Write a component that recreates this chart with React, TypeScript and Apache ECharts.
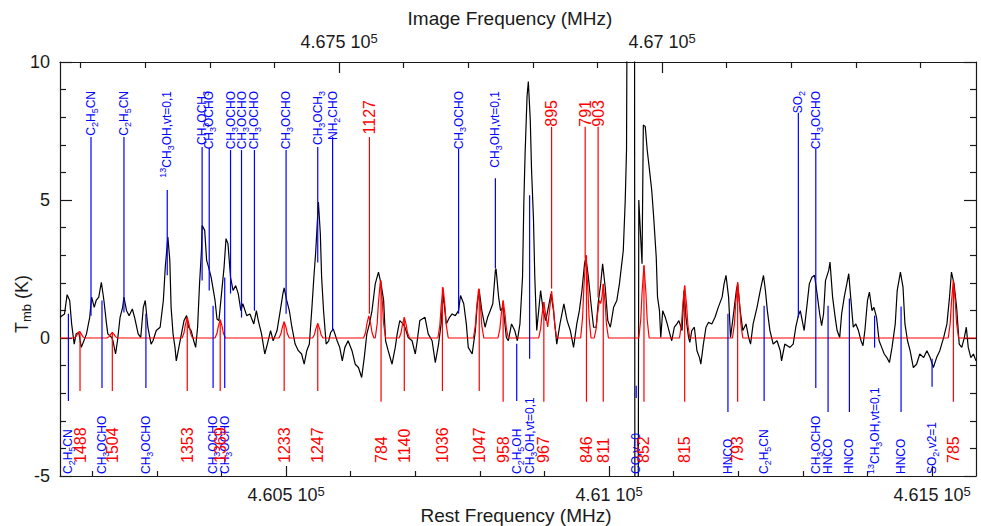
import React, { useEffect, useRef } from 'react';
import * as echarts from 'echarts';

const FONT = '"Liberation Sans", Arial, sans-serif';
const INK = '#1a1a1a';
const BLUE = '#0000ff';
const RED = '#ff0000';

// Rest frequency range (MHz) and image-sideband relation (image = IMAGE_SUM - rest)
const REST_MIN = 460150;
const REST_MAX = 461568;
const IMAGE_SUM = 928082;

const restMajorTicks = [460500, 461000, 461500];
const restMinorTicks = [460200, 460300, 460400, 460600, 460700, 460800, 460900, 461100, 461200, 461300, 461400];
const imageMajorTicks = [467500, 467000];
const imageMinorTicks = [467900, 467800, 467700, 467600, 467400, 467300, 467200, 467100, 466900, 466800, 466700, 466600];

// Observed spectrum (rest frequency MHz, Tmb K)
const specFreq = [
  460150, 460157, 460161, 460165, 460168, 460172, 460175, 460179, 460183, 460187,
  460191, 460196, 460199, 460203, 460206, 460210, 460214, 460218, 460222, 460224,
  460230, 460232, 460236, 460239, 460243, 460247, 460249, 460253, 460257, 460262,
  460266, 460271, 460275, 460279, 460282, 460286, 460291, 460294, 460299, 460305,
  460310, 460313, 460317, 460320, 460322, 460325, 460328, 460330, 460334, 460338,
  460342, 460346, 460349, 460353, 460357, 460360, 460363, 460366, 460369, 460370,
  460374, 460377, 460380, 460384, 460390, 460393, 460396, 460400, 460404, 460407,
  460410, 460414, 460418, 460422, 460426, 460430, 460433, 460439, 460444, 460450,
  460454, 460457, 460462, 460467, 460471, 460476, 460480, 460486, 460491, 460495,
  460497, 460501, 460505, 460509, 460514, 460519, 460524, 460528, 460532, 460536,
  460540, 460543, 460546, 460550, 460553, 460555, 460558, 460562, 460566, 460569,
  460573, 460579, 460583, 460587, 460591, 460596, 460602, 460607, 460612, 460617,
  460621, 460625, 460629, 460633, 460638, 460643, 460647, 460651, 460654, 460658,
  460664, 460669, 460672, 460676, 460681, 460684, 460689, 460695, 460700, 460703,
  460707, 460715, 460720, 460726, 460731, 460736, 460740, 460743, 460748, 460753,
  460757, 460762, 460767, 460770, 460775, 460779, 460782, 460788, 460793, 460796,
  460799, 460803, 460808, 460812, 460816, 460820, 460824, 460825, 460829, 460832,
  460836, 460841, 460844, 460849, 460854, 460858, 460862, 460866, 460868, 460870,
  460873, 460875, 460878, 460880, 460883, 460885, 460888, 460891, 460894, 460898,
  460902, 460906, 460910, 460914, 460919, 460924, 460930, 460935, 460940, 460945,
  460950, 460954, 460958, 460962, 460964, 460968, 460972, 460976, 460980, 460983,
  460987, 460990, 460994, 460998, 461002, 461007, 461012, 461016, 461022, 461025,
  461027, 461030, 461039, 461040, 461045, 461046, 461051, 461053, 461056, 461059,
  461062, 461066, 461069, 461073, 461075, 461078, 461080, 461083, 461087, 461090,
  461094, 461097, 461101, 461105, 461108, 461113, 461116, 461119, 461123, 461125,
  461128, 461132, 461136, 461140, 461142, 461146, 461150, 461154, 461159, 461164,
  461169, 461175, 461178, 461181, 461185, 461188, 461192, 461197, 461199, 461203,
  461207, 461212, 461216, 461219, 461223, 461229, 461234, 461239, 461242, 461245,
  461249, 461254, 461260, 461265, 461267, 461272, 461280, 461285, 461289, 461293,
  461296, 461299, 461302, 461306, 461310, 461314, 461318, 461322, 461326, 461329,
  461332, 461335, 461340, 461342, 461346, 461350, 461353, 461357, 461360, 461364,
  461368, 461371, 461374, 461378, 461382, 461386, 461390, 461393, 461396, 461400,
  461403, 461407, 461410, 461414, 461418, 461422, 461426, 461430, 461434, 461438,
  461443, 461446, 461451, 461455, 461458, 461462, 461466, 461471, 461476, 461481,
  461487, 461492, 461497, 461502, 461507, 461512, 461518, 461523, 461527, 461530,
  461534, 461538, 461542, 461546, 461550, 461553, 461556, 461560, 461564, 461568,
];
const specT = [
  0.75, 0.87, 1.57, 1.36, 0.51, -0.22, 0.15, 0.2, -0.34, -0.1,
  0.15, 0.75, 1.48, 1.11, 1.36, 1.48, 2.02, 1.36, 0.51, 0.15,
  0.02, -0.1, -0.58, -0.1, 0.75, 1.11, 1.48, 0.99, 0.81, 1.05,
  0.69, 0.15, 0.02, 1.11, 1.36, 0.39, -0.22, -0.1, 0.27, 0.39,
  1.36, 2.57, 3.66, 2.81, 1.11, 0.15, -0.34, -0.83, -0.34, 0.15,
  0.63, 0.81, 0.39, 0.27, -0.1, -0.34, 0.39, 1.96, 3.17, 4.08,
  3.9, 2.81, 2.57, 2.2, 1.36, 0.69, 0.63, 1.6, 2.57, 3.6,
  3.42, 2.2, 1.72, 1.9, 1.6, 0.99, 1.24, 0.81, 0.87, 0.51,
  0.99, 0.63, 0.15, -0.58, -0.22, 0.27, -0.1, 0.27, 0.99, 1.6,
  1.82, 1.36, 0.99, 0.39, -0.22, -0.46, -0.58, -0.95, -0.46, -0.22,
  1.11, 2.2, 3.17, 4.93, 3.78, 2.2, 0.99, -0.22, -0.1, 0.2,
  0.33, -0.1, -0.34, -0.83, -0.34, -0.1, -0.46, -0.95, -1.07, -1.43,
  -0.71, 0.15, 0.51, 0.99, 1.96, 2.39, 1.96, 1.36, -0.1, -0.46,
  -0.95, -0.34, 0.15, 0.63, 0.51, 0.39, 0.02, -0.1, -0.58, -0.1,
  0.63, 0.75, 0.15, -0.1, -0.89, -0.22, 0.51, 1.6, 0.51, 0.75,
  0.87, 0.81, 0.99, 1.54, 1.24, 0.51, -0.34, -0.58, 0.27, 1.24,
  1.72, 0.99, 0.39, 0.75, 0.99, 1.24, 2.45, 2.51, 1.48, 0.99,
  1.11, 0.02, -0.1, 0.51, 0.27, -0.1, 0.51, 2.2, 4.87, 6.69,
  8.75, 9.29, 7.9, 6.08, 4.27, 2.2, 0.27, 0.99, 1.72, 0.99,
  0.63, 1.11, 1.6, 0.99, -0.22, 0.51, 1.24, 0.63, 0.27, -0.34,
  0.51, 0.99, 1.72, 2.69, 2.93, 2.2, 1.24, 0.39, 0.39, 1.24,
  1.96, 2.69, 1.84, 0.63, 0.39, 1.11, 1.36, 1.96, 3.17, 4.99,
  6.81, 25, 25, -8, -8, 5.0, 2.69, 7.72, 7.66, 6.81,
  6.2, 5.36, 4.39, 2.93, 1.48, 0.99, 0.02, 0.99, 0.75, 0.51,
  0.15, -0.1, 0.39, 0.51, 0.63, 0.27, 1.72, 0.75, 0.02, -0.16,
  0.27, 0.39, -0.46, -0.71, -0.95, -0.22, 0.39, 0.57, 0.51, 0.75,
  1.11, 1.48, 1.96, 2.27, 1.48, 0.02, 0.75, 1.72, 1.96, 0.99,
  0.27, 0.51, 0.02, -0.22, 0.51, 1.11, 1.72, 2.27, 1.72, 0.99,
  0.27, -0.22, -0.1, -0.46, -0.83, -0.22, -0.34, -0.22, 0.39, 0.81,
  0.99, 0.63, 0.27, 1.11, 1.96, 2.2, 2.27, 1.6, 0.87, 0.45,
  0.87, 2.08, 2.45, 2.75, 1.48, 0.75, 0.27, 0.02, 0.87, 1.48,
  1.96, 2.33, 1.48, 0.39, 0.51, 0.27, -0.1, -0.28, 0.27, 1.36,
  1.66, 0.99, 1.11, 0.75, -0.1, -0.34, -0.58, -0.71, -0.89, -0.34,
  0.51, 1.72, 2.39, 1.84, 0.51, -0.1, -0.46, -1.07, -0.95, -0.58,
  -0.71, -0.46, -0.71, -1.07, -0.71, -0.46, 0.02, 0.51, 1.48, 2.39,
  1.96, 1.11, -0.22, -0.34, 0.02, 0.39, -0.34, -0.71, -0.58, -0.83,
];

// Model (red) spectrum
const modelFreq = [
  460150,
  460172, 460175, 460177, 460180, 460183, 460185, 460188,
  460223, 460226, 460228, 460231, 460234, 460236, 460239,
  460339, 460342, 460344, 460347, 460350, 460352, 460355,
  460390, 460393, 460395, 460398, 460401, 460403, 460406,
  460489, 460492, 460494, 460497, 460500, 460502, 460505,
  460541, 460544, 460546, 460549, 460552, 460554, 460557,
  460620, 460623, 460625, 460628, 460631, 460633, 460636,
  460638, 460641, 460643, 460646, 460649, 460651, 460654,
  460675, 460678, 460680, 460683, 460686, 460688, 460691,
  460735, 460738, 460740, 460743, 460746, 460748, 460751,
  460790, 460793, 460795, 460798, 460801, 460803, 460806,
  460828, 460831, 460833, 460836, 460839, 460841, 460844,
  460891, 460894, 460896, 460899, 460902, 460905, 460908, 460911, 460914, 460916, 460919,
  460956, 460959, 460961, 460964, 460967, 460969, 460972,
  460977, 460980, 460982, 460985, 460987, 460989, 460991, 460994, 460996, 460999,
  461046, 461049, 461051, 461054, 461057, 461059, 461062,
  461109, 461112, 461114, 461117, 461120, 461122, 461125,
  461191, 461194, 461196, 461199, 461202, 461204, 461207,
  461525, 461528, 461530, 461533, 461536, 461538, 461541,
  461568,
];
const modelT = [
  0,
  0, 0.06, 0.15, 0.24, 0.15, 0.06, 0,
  0, 0.05, 0.12, 0.2, 0.12, 0.05, 0,
  0, 0.19, 0.47, 0.75, 0.47, 0.19, 0,
  0, 0.17, 0.41, 0.66, 0.41, 0.17, 0,
  0, 0.15, 0.37, 0.59, 0.37, 0.15, 0,
  0, 0.13, 0.33, 0.53, 0.33, 0.13, 0,
  0, 0.2, 0.5, 0.8, 0.5, 0.2, 0,
  0, 0.52, 1.29, 2.08, 1.29, 0.52, 0,
  0, 0.19, 0.47, 0.75, 0.47, 0.19, 0,
  0, 0.46, 1.14, 1.84, 1.14, 0.46, 0,
  0, 0.45, 1.1, 1.78, 1.1, 0.45, 0,
  0, 0.34, 0.84, 1.36, 0.84, 0.34, 0,
  0, 0.33, 0.81, 1.3, 0.81, 0.4, 1.05, 1.7, 1.05, 0.43, 0,
  0, 0.75, 1.86, 3.0, 1.86, 0.75, 0,
  0, 0.34, 0.84, 1.36, 1.25, 1.5, 1.96, 1.22, 0.49, 0,
  0, 0.66, 1.63, 2.63, 1.63, 0.66, 0,
  0, 0.48, 1.18, 1.9, 1.18, 0.48, 0,
  0, 0.5, 1.25, 2.02, 1.25, 0.5, 0,
  0, 0.52, 1.29, 2.08, 1.29, 0.52, 0,
  0,
];

// Line identifications labelled above the spectrum
const topBlueFreq = [460198, 460249, 460316, 460370, 460381, 460414, 460431, 460451, 460500, 460549, 460572, 460767, 460824, 461293, 461320];
const topBlueLabel = ['C2H5CN', 'C2H5CN', '13CH3OH,vt=0,1', 'CH3OCH3', 'CH3OCHO', 'CH3OCHO', 'CH3OCHO', 'CH3OCHO', 'CH3OCHO', 'CH3OCH3', 'NH2CHO', 'CH3OCHO', 'CH3OH,vt=0,1', 'SO2', 'CH3OCHO'];
const topBlueLineTop = [7.28, 7.28, 5.36, 6.92, 6.88, 6.81, 6.81, 6.81, 6.81, 6.92, 7.28, 6.85, 5.79, 8.16, 6.85];
const topBlueLineEnd = [0.81, 0.92, 2.27, 2.08, 1.72, 1.61, 0.74, 0.99, 0.88, 2.74, 0.27, 0.88, 2.52, 0.74, 2.08];

const topRedFreq = [460629, 460911, 460963, 460983];
const topRedLabel = ['1127', '895', '791', '903'];
const topRedLineTop = [7.28, 7.65, 7.65, 7.65];
const topRedLineEnd = [0.88, 1.79, 2.88, 1.47];

// Line identifications labelled below the spectrum
const bottomBlueFreq = [460163, 460215, 460283, 460387, 460405, 460857, 460877, 461042, 461184, 461240, 461320, 461339, 461372, 461411, 461452, 461500];
const bottomBlueLabel = ['C2H5CN', 'CH3OCHO', 'CH3OCHO', 'CH3OCHO', 'CH3OCHO', 'C2H5OH', 'CH3OH,vt=0,1', 'CO,v=0', 'HNCO', 'C2H5CN', 'CH3OCHO', 'HNCO', 'HNCO', '13CH3OH,vt=0,1', 'HNCO', 'SO2,v2=1'];
const bottomBlueLineTop = [0.88, 1.36, 0.88, 1.17, 2.19, -0.21, 5.17, -1.73, 0.88, 1.17, 2.08, 1.17, 1.43, 0.81, 1.14, -0.75];
const bottomBlueLineEnd = [-2.28, -1.81, -1.81, -1.81, -1.81, -2.28, -0.75, -2.17, -2.68, -2.28, -1.81, -2.68, -2.68, -0.35, -2.68, -1.77];

const bottomRedFreq = [460181, 460231, 460347, 460398, 460497, 460549, 460647, 460683, 460742, 460799, 460836, 460899, 460965, 460991, 461054, 461117, 461199, 461533];
const bottomRedLabel = ['1488', '1504', '1353', '1369', '1233', '1247', '784', '1140', '1036', '1047', '958', '967', '846', '811', '852', '815', '793', '785'];
const bottomRedLineTop = [0.24, 0.2, 0.75, 0.66, 0.59, 0.53, 2.08, 0.75, 1.84, 1.78, 1.36, 1.3, 3.0, 1.96, 2.63, 1.9, 2.02, 2.08];
const bottomRedLineEnd = [-1.92, -1.92, -1.92, -1.92, -1.92, -1.92, -2.31, -1.92, -1.92, -1.92, -2.31, -2.31, -2.31, -2.31, -2.31, -2.31, -2.31, -2.31];

function chemText(label: string): string {
  const comma = label.indexOf(',');
  const formula = comma >= 0 ? label.slice(0, comma) : label;
  const rest = comma >= 0 ? label.slice(comma) : '';
  let out = '';
  let body = formula;
  const iso = body.match(/^(\d+)/);
  if (iso) {
    out += `{p|${iso[1]}}`;
    body = body.slice(iso[1].length);
  }
  const parts = body.match(/\d+|\D+/g) || [];
  for (const part of parts) out += /\d/.test(part) ? `{b|${part}}` : `{n|${part}}`;
  if (rest) out += `{n|${rest}}`;
  return out;
}

function chemRich(color: string, size: number) {
  const small = Math.round(size * 0.72);
  return {
    n: { fill: color, fontSize: size, fontFamily: FONT },
    b: { fill: color, fontSize: small, fontFamily: FONT, padding: [8, 0, 0, 0] },
    p: { fill: color, fontSize: small, fontFamily: FONT, padding: [0, 0, 8, 0] },
  };
}

function markerSeries(
  freqs: number[], tops: number[], ends: number[], labels: string[],
  color: string, side: 'top' | 'bottom', fontSize: number, labelOffset: number, chem: boolean,
) {
  return {
    type: 'custom',
    silent: true,
    clip: false,
    z: 5,
    xAxisIndex: 0,
    yAxisIndex: 0,
    encode: { x: 0, y: 1 },
    data: freqs.map((f, i) => [f, tops[i], ends[i], i]),
    renderItem: (params: any, api: any) => {
      const i = api.value(3);
      const f = api.value(0);
      const a = api.coord([f, api.value(1)]);
      const b = api.coord([f, api.value(2)]);
      const cs = params.coordSys;
      const ly = side === 'top' ? cs.y + labelOffset : cs.y + cs.height - labelOffset;
      const label = labels[i];
      const textStyle: any = {
        text: chem ? chemText(label) : label,
        fill: color,
        fontSize,
        fontFamily: FONT,
        align: side === 'top' ? 'right' : 'left',
        verticalAlign: 'middle',
      };
      if (chem) textStyle.rich = chemRich(color, fontSize);
      return {
        type: 'group',
        children: [
          {
            type: 'line',
            shape: { x1: a[0], y1: a[1], x2: b[0], y2: b[1] },
            style: { stroke: color, lineWidth: 1.2 },
          },
          {
            type: 'text',
            x: a[0],
            y: ly,
            rotation: Math.PI / 2,
            style: textStyle,
          },
        ],
      };
    },
  };
}

const restLabel = (v: number) => `{a|${String(Math.round(v) / 1e5)} 10}{s|5}`;
const imageLabel = (v: number) => `{a|${String(Math.round(IMAGE_SUM - v) / 1e5)} 10}{s|5}`;
const toRest = (img: number) => IMAGE_SUM - img;

const axisLineStyle = { color: INK, width: 1.2 };
const tickRich = {
  a: { fontSize: 18, lineHeight: 20, color: INK, fontFamily: FONT },
  s: { fontSize: 13, lineHeight: 12, verticalAlign: 'top', color: INK, fontFamily: FONT },
};

export default function App() {
  const ref = useRef<HTMLDivElement>(null);

  useEffect(() => {
    if (!ref.current) return;
    const chart = echarts.init(ref.current, undefined, { renderer: 'svg' });

    const baseX: any = {
      type: 'value',
      min: REST_MIN,
      max: REST_MAX,
      splitLine: { show: false },
    };

    const option: any = {
      animation: false,
      backgroundColor: '#ffffff',
      textStyle: { fontFamily: FONT, color: INK },
      grid: { left: 60, right: 5, top: 62, bottom: 50, containLabel: false, outerBoundsMode: 'none' },
      xAxis: [
        {
          ...baseX,
          position: 'bottom',
          axisLine: { show: true, onZero: false, lineStyle: axisLineStyle },
          axisTick: { show: true, inside: true, length: 10, customValues: restMajorTicks, lineStyle: axisLineStyle },
          axisLabel: { show: true, customValues: restMajorTicks, margin: 9, formatter: restLabel, rich: tickRich },
        },
        {
          ...baseX,
          position: 'bottom',
          axisLine: { show: false, onZero: false },
          axisTick: { show: true, inside: true, length: 5, customValues: restMinorTicks, lineStyle: axisLineStyle },
          axisLabel: { show: false },
        },
        {
          ...baseX,
          position: 'top',
          axisLine: { show: true, onZero: false, lineStyle: axisLineStyle },
          axisTick: { show: true, inside: true, length: 11, customValues: imageMajorTicks.map(toRest), lineStyle: axisLineStyle },
          axisLabel: { show: true, customValues: imageMajorTicks.map(toRest), margin: 10, formatter: imageLabel, rich: tickRich },
        },
        {
          ...baseX,
          position: 'top',
          axisLine: { show: false, onZero: false },
          axisTick: { show: true, inside: true, length: 6, customValues: imageMinorTicks.map(toRest), lineStyle: axisLineStyle },
          axisLabel: { show: false },
        },
      ],
      yAxis: [
        {
          type: 'value',
          position: 'left',
          min: -5,
          max: 10,
          interval: 5,
          splitLine: { show: false },
          axisLine: { show: true, onZero: false, lineStyle: axisLineStyle },
          axisTick: { show: true, inside: true, length: 12, lineStyle: axisLineStyle },
          minorTick: { show: true, splitNumber: 5, length: 6, lineStyle: axisLineStyle },
          axisLabel: { fontSize: 18, color: INK, margin: 10, fontFamily: FONT },
        },
        {
          type: 'value',
          position: 'right',
          min: -5,
          max: 10,
          interval: 5,
          splitLine: { show: false },
          axisLine: { show: true, onZero: false, lineStyle: axisLineStyle },
          axisTick: { show: true, inside: true, length: 12, lineStyle: axisLineStyle },
          minorTick: { show: true, splitNumber: 5, length: 6, lineStyle: axisLineStyle },
          axisLabel: { show: false },
        },
      ],
      graphic: [
        {
          type: 'text',
          x: 22,
          y: 304,
          rotation: Math.PI / 2,
          style: {
            text: '{a|T}{s|mb}{a| (K)}',
            align: 'center',
            verticalAlign: 'middle',
            fill: INK,
            rich: {
              a: { fill: INK, fontSize: 18, fontFamily: FONT },
              s: { fill: INK, fontSize: 13, fontFamily: FONT, padding: [8, 0, 0, 0] },
            },
          },
        },
        {
          type: 'text',
          x: 516,
          y: 525,
          style: {
            text: 'Rest Frequency (MHz)',
            align: 'center',
            verticalAlign: 'bottom',
            fill: INK,
            fontSize: 19,
            fontFamily: FONT,
          },
        },
        {
          type: 'text',
          x: 510,
          y: 18,
          style: {
            text: 'Image Frequency (MHz)',
            align: 'center',
            verticalAlign: 'middle',
            fill: INK,
            fontSize: 19,
            fontFamily: FONT,
          },
        },
      ],
      series: [
        {
          type: 'line',
          xAxisIndex: 0,
          yAxisIndex: 0,
          data: specFreq.map((f, i) => [f, specT[i]]),
          showSymbol: false,
          symbol: 'none',
          clip: true,
          silent: true,
          z: 3,
          lineStyle: { color: '#000000', width: 1.2 },
        },
        {
          type: 'line',
          xAxisIndex: 0,
          yAxisIndex: 0,
          data: modelFreq.map((f, i) => [f, modelT[i]]),
          showSymbol: false,
          symbol: 'none',
          clip: true,
          silent: true,
          z: 4,
          lineStyle: { color: RED, width: 1.2 },
        },
        markerSeries(topBlueFreq, topBlueLineTop, topBlueLineEnd, topBlueLabel, BLUE, 'top', 12, 29, true),
        markerSeries(topRedFreq, topRedLineTop, topRedLineEnd, topRedLabel, RED, 'top', 16, 38, false),
        markerSeries(bottomBlueFreq, bottomBlueLineTop, bottomBlueLineEnd, bottomBlueLabel, BLUE, 'bottom', 12, 2, true),
        markerSeries(bottomRedFreq, bottomRedLineTop, bottomRedLineEnd, bottomRedLabel, RED, 'bottom', 16, 13, false),
      ],
    };

    chart.setOption(option);
    return () => chart.dispose();
  }, []);

  return (
    <div
      ref={ref}
      style={{ position: 'absolute', left: 0, top: 0, width: 981, height: 526 }}
    />
  );
}
